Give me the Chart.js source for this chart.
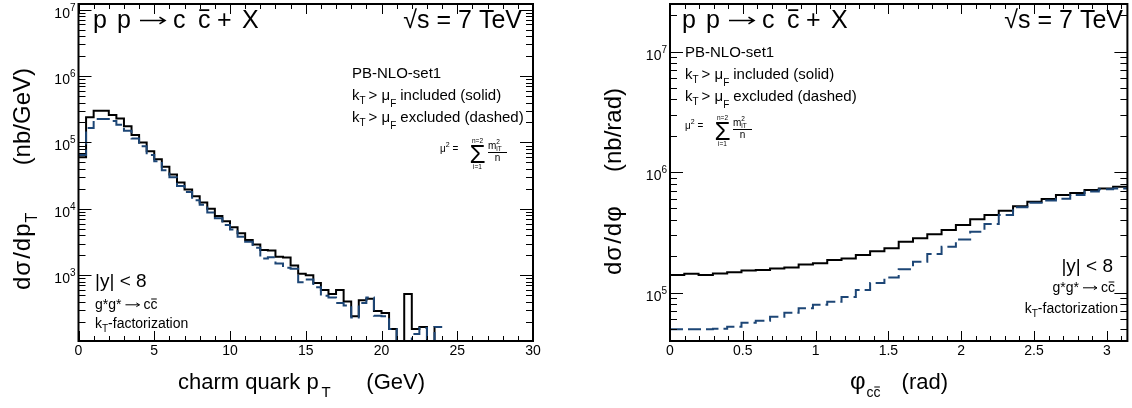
<!DOCTYPE html>
<html>
<head>
<meta charset="utf-8">
<title>charm quark pT and azimuthal correlation</title>
<script src="https://cdn.jsdelivr.net/npm/chart.js@4.4.1/dist/chart.umd.min.js"></script>
<style>
  body { margin: 0; background: #fff; }
  #wrap { position: relative; width: 1132px; height: 408px; }
  #wrap canvas { position: absolute; top: 0; }
</style>
</head>
<body>
<div id="wrap">
  <canvas id="ptChart" width="566" height="408" style="left:0"></canvas>
  <canvas id="phiChart" width="566" height="408" style="left:566px"></canvas>
</div>
<script>
// pT spectrum, bins of 0.5 GeV starting at 0 (0 = empty bin)
const ptBinWidth = 0.5;
const ptSolid = [6.0e4, 2.4e5, 3.0e5, 3.0e5, 2.6e5, 2.3e5, 1.75e5, 1.3e5, 1.0e5, 7.4e4,
                 5.6e4, 4.3e4, 3.3e4, 2.5e4, 1.95e4, 1.55e4, 1.25e4, 1.0e4, 7.8e3, 6.5e3,
                 5.3e3, 4.3e3, 3.4e3, 2.9e3, 2.4e3, 2.35e3, 1.9e3, 1.85e3, 1.4e3, 1.05e3,
                 1.0e3, 7.6e2, 6.0e2, 5.2e2, 6.0e2, 4.0e2, 2.4e2, 4.2e2, 4.4e2, 2.9e2,
                 2.7e2, 1.55e2, 0, 5.2e2, 1.55e2, 1.66e2, 0, 1.66e2];
const ptDashed = [6.5e4, 1.65e5, 2.25e5, 2.25e5, 2.1e5, 1.85e5, 1.5e5, 1.15e5, 8.8e4, 6.5e4,
                  5.2e4, 3.8e4, 3.0e4, 2.2e4, 1.8e4, 1.35e4, 1.15e4, 8.8e3, 7.2e3, 5.7e3,
                  4.9e3, 3.8e3, 3.2e3, 2.6e3, 1.78e3, 1.87e3, 1.5e3, 1.3e3, 1.25e3, 7.8e2,
                  8.6e2, 6.6e2, 4.9e2, 4.6e2, 3.8e2, 3.5e2, 2.3e2, 3.8e2, 4.6e2, 2.45e2,
                  2.4e2, 1.55e2, 0, 0, 1.3e2, 1.6e2, 0, 1.66e2];
const ptTicks = [0, 5, 10, 15, 20, 25, 30];

// azimuthal distance, 32 bins over [0, pi]
const phiBinWidth = Math.PI / 32;
const phiSolid = [1.40e5, 1.43e5, 1.40e5, 1.44e5, 1.47e5, 1.52e5, 1.54e5, 1.58e5, 1.61e5, 1.71e5,
                  1.75e5, 1.86e5, 1.92e5, 2.05e5, 2.2e5, 2.33e5, 2.64e5, 2.82e5, 3.04e5, 3.30e5,
                  3.63e5, 4.05e5, 4.4e5, 4.77e5, 5.2e5, 5.67e5, 5.97e5, 6.44e5, 6.7e5, 7.1e5,
                  7.3e5, 7.55e5];
const phiDashed = [4.95e4, 4.95e4, 4.95e4, 5.0e4, 5.2e4, 5.6e4, 5.83e4, 6.3e4, 6.8e4, 7.4e4,
                   7.9e4, 8.4e4, 9.2e4, 1.05e5, 1.2e5, 1.33e5, 1.56e5, 1.8e5, 2.09e5, 2.4e5,
                   2.76e5, 3.2e5, 3.7e5, 4.4e5, 5.1e5, 5.56e5, 5.8e5, 6.0e5, 6.44e5, 6.9e5,
                   7.2e5, 7.3e5];
const phiTicks = [0, 0.5, 1, 1.5, 2, 2.5, 3];

const FONT = '"Liberation Sans", Arial, Helvetica, sans-serif';
const BLUE = '#1d4676';

function font(ctx, size) {
    ctx.font = size + 'px ' + FONT;
}

// draw a run of text pieces (sub/superscripts via dy, overline via over, arrow via arrow=length)
function drawRich(ctx, parts, x, y, align) {
    let w = 0;
    parts.forEach(p => {
        font(ctx, p.size);
        p.w = p.arrow ? p.arrow : ctx.measureText(p.t).width;
        w += p.w + (p.gap || 0);
    });
    let cx = align === 'right' ? x - w : (align === 'center' ? x - w / 2 : x);
    parts.forEach(p => {
        font(ctx, p.size);
        const by = y + (p.dy || 0);
        if (p.arrow) {
            const ay = by - p.size * 0.3, h = p.size * 0.22;
            ctx.save();
            ctx.strokeStyle = ctx.fillStyle;
            ctx.lineWidth = Math.max(1, p.size / 16);
            ctx.beginPath();
            ctx.moveTo(cx, ay); ctx.lineTo(cx + p.w, ay);
            ctx.moveTo(cx + p.w - h, ay - h * 0.6); ctx.lineTo(cx + p.w, ay); ctx.lineTo(cx + p.w - h, ay + h * 0.6);
            ctx.stroke();
            ctx.restore();
        } else {
            ctx.fillText(p.t, cx, by);
        }
        if (p.over) {
            ctx.fillRect(cx + p.w * 0.1, by - p.size * 0.75, p.w * 0.8, Math.max(1, p.size / 14));
        }
        cx += p.w + (p.gap || 0);
    });
    return w;
}

// histogram -> step points at bin edges
function histPoints(width, values, floor) {
    const pts = values.map((v, i) => ({ x: i * width, y: v > 0 ? v : floor }));
    pts.push({ x: values.length * width, y: pts[pts.length - 1].y });
    return pts;
}

function drawProcess(ctx, x0, base) {
    const toks = ['p', 'p', null, 'c', 'c', '+', 'X'];
    const offs = [0, 24, 47, 80, 105, 124, 149];
    toks.forEach((t, i) => {
        if (t === null) drawRich(ctx, [{ arrow: 25, size: 25 }], x0 + offs[i], base);
        else drawRich(ctx, [{ t: t, size: 25, over: i === 4 }], x0 + offs[i], base);
    });
}

function drawLegend(ctx, x, y) {
    drawRich(ctx, [{ t: 'PB-NLO-set1', size: 15 }], x, y);
    const kt = [{ t: 'k', size: 15 }, { t: 'T', size: 10, dy: 4, gap: 3 }, { t: '> μ', size: 15 }, { t: 'F', size: 10, dy: 7, gap: 4 }];
    drawRich(ctx, kt.concat([{ t: 'included (solid)', size: 15 }]), x, y + 22);
    drawRich(ctx, kt.concat([{ t: 'excluded (dashed)', size: 15 }]), x, y + 44);
}

function drawFormula(ctx, x, ly) {
    drawRich(ctx, [{ t: 'μ', size: 10 }, { t: '2', size: 7, dy: -5 }, { t: ' =', size: 10 }], x, ly);
    drawRich(ctx, [{ t: 'Σ', size: 26 }], x + 37.5, ly + 11, 'center');
    drawRich(ctx, [{ t: 'n=2', size: 6.5 }], x + 37.5, ly - 9, 'center');
    drawRich(ctx, [{ t: 'i=1', size: 6.5 }], x + 37.5, ly + 17, 'center');
    const mw = drawRich(ctx, [{ t: 'm', size: 10 }], x + 48, ly - 3);
    drawRich(ctx, [{ t: '2', size: 6.5 }], x + 48 + mw, ly - 8);
    drawRich(ctx, [{ t: 'iT', size: 6.5 }], x + 48 + mw, ly - 1);
    ctx.fillRect(x + 48, ly, 19, 1);
    drawRich(ctx, [{ t: 'n', size: 10 }], x + 57.5, ly + 9, 'center');
}

function drawGluons(ctx, x, y, align) {
    drawRich(ctx, [{ t: 'g*g*', size: 14, gap: 4 }, { arrow: 14, size: 14, gap: 4 }, { t: 'c', size: 14 }, { t: 'c', size: 14, over: true }], x, y, align);
}

// rotated title: first part starts at yStart (bottom), last part ends at yEnd (top)
function drawVTitle(ctx, xBase, yStart, first, yEnd, last) {
    ctx.save();
    ctx.translate(xBase, 0);
    ctx.rotate(-Math.PI / 2);
    drawRich(ctx, first, -yStart, 0, 'left');
    drawRich(ctx, last, -yEnd, 0, 'right');
    ctx.restore();
}

// ROOT style frame: inward ticks on all four sides, 10^n labels
function rootPanel(cfg) {
    return {
        id: 'rootPanel',
        afterDatasetsDraw(chart) {
            const ctx = chart.ctx, a = chart.chartArea, xs = chart.scales.x, ys = chart.scales.y;
            ctx.save();
            ctx.fillStyle = '#000';
            ctx.strokeStyle = '#000';
            ctx.lineWidth = 1;
            ctx.beginPath();
            const nMinor = Math.round((xs.max - xs.min) / cfg.xMinor);
            for (let i = 0; i <= nMinor; i++) {
                const v = xs.min + i * cfg.xMinor;
                const major = cfg.xTicks.some(t => Math.abs(t - v) < 1e-6);
                const len = major ? 10 : 5;
                const px = Math.round(xs.getPixelForValue(v)) + 0.5;
                ctx.moveTo(px, a.bottom); ctx.lineTo(px, a.bottom - len);
                ctx.moveTo(px, a.top); ctx.lineTo(px, a.top + len);
            }
            const d0 = Math.floor(Math.log10(ys.min)), d1 = Math.ceil(Math.log10(ys.max));
            const decades = [];
            for (let d = d0; d <= d1; d++) {
                for (let k = 1; k <= 9; k++) {
                    const v = k * Math.pow(10, d);
                    if (v < ys.min || v > ys.max) continue;
                    if (k === 1) decades.push(d);
                    const len = k === 1 ? 13 : 7;
                    const py = Math.round(ys.getPixelForValue(v)) + 0.5;
                    ctx.moveTo(a.left, py); ctx.lineTo(a.left + len, py);
                    ctx.moveTo(a.right, py); ctx.lineTo(a.right - len, py);
                }
            }
            ctx.stroke();
            ctx.lineWidth = 2;
            ctx.strokeRect(a.left, a.top, a.right - a.left, a.bottom - a.top);

            ctx.textBaseline = 'alphabetic';
            ctx.textAlign = 'left';
            cfg.xTicks.forEach(t => drawRich(ctx, [{ t: String(t), size: 14 }], xs.getPixelForValue(t), 355, 'center'));
            decades.forEach(d => {
                const py = ys.getPixelForValue(Math.pow(10, d));
                drawRich(ctx, [{ t: '10', size: 14 }, { t: String(d), size: 10, dy: -7 }], a.left - 3, py + 8, 'right');
            });

            ctx.translate(-cfg.originX, 0);
            cfg.text(ctx);
            ctx.restore();
        }
    };
}

function histChart(id, cfg) {
    return new Chart(document.getElementById(id), {
        type: 'line',
        data: {
            datasets: [
                {
                    label: 'kT > muF excluded (dashed)',
                    data: histPoints(cfg.binWidth, cfg.dashed, cfg.yMin),
                    borderColor: BLUE,
                    borderWidth: 2,
                    borderDash: [13, 5],
                    stepped: 'before',
                    pointRadius: 0,
                    fill: false,
                    order: 0
                },
                {
                    label: 'kT > muF included (solid)',
                    data: histPoints(cfg.binWidth, cfg.solid, cfg.yMin),
                    borderColor: '#000',
                    borderWidth: 2,
                    stepped: 'before',
                    pointRadius: 0,
                    fill: false,
                    order: 1
                }
            ]
        },
        options: {
            responsive: false,
            animation: false,
            layout: { padding: cfg.padding },
            scales: {
                x: { type: 'linear', min: 0, max: cfg.xMax, display: false },
                y: { type: 'logarithmic', min: cfg.yMin, max: cfg.yMax, display: false }
            },
            plugins: { legend: { display: false }, tooltip: { enabled: false } }
        },
        plugins: [rootPanel(cfg)]
    });
}

histChart('ptChart', {
    binWidth: ptBinWidth, solid: ptSolid, dashed: ptDashed,
    xMax: 30, yMin: 102, yMax: 1.22e7,
    xTicks: ptTicks, xMinor: 1, originX: 0,
    padding: { left: 78.5, right: 33, top: 4, bottom: 67 },
    text: function(ctx) {
        drawProcess(ctx, 93, 28);
        drawRich(ctx, [{ t: '√s = 7 TeV', size: 25 }], 522, 28, 'right');
        drawLegend(ctx, 352, 78);
        drawFormula(ctx, 440, 152);
        drawRich(ctx, [{ t: '|y| < 8', size: 19 }], 95, 287);
        drawGluons(ctx, 95, 309, 'left');
        drawRich(ctx, [{ t: 'k', size: 14 }, { t: 'T', size: 10, dy: 4 }, { t: '-factorization', size: 14 }], 95, 328);
        drawRich(ctx, [{ t: 'charm quark p', size: 22, gap: 3 }, { t: 'T', size: 15, dy: 8 }], 178, 389);
        drawRich(ctx, [{ t: '(GeV)', size: 22 }], 425, 389, 'right');
        drawVTitle(ctx, 30, 290,
            [{ t: 'd', size: 24, gap: 1 }, { t: 'σ', size: 24, gap: 2 }, { t: '/', size: 24, gap: 1 }, { t: 'd', size: 24, gap: 1 }, { t: 'p', size: 24, gap: 1 }, { t: 'T', size: 16, dy: 7 }],
            68, [{ t: '(nb/GeV)', size: 24 }]);
    }
});

histChart('phiChart', {
    binWidth: phiBinWidth, solid: phiSolid, dashed: phiDashed,
    xMax: Math.PI, yMin: 3.96e4, yMax: 2.48e7,
    xTicks: phiTicks, xMinor: 0.1, originX: 566,
    padding: { left: 104, right: 4.6, top: 4, bottom: 67 },
    text: function(ctx) {
        drawProcess(ctx, 682, 28);
        drawRich(ctx, [{ t: '√s = 7 TeV', size: 25 }], 1123, 28, 'right');
        drawLegend(ctx, 685, 57);
        drawFormula(ctx, 685, 129);
        drawRich(ctx, [{ t: '|y| < 8', size: 19 }], 1113, 272, 'right');
        drawGluons(ctx, 1115, 292, 'right');
        drawRich(ctx, [{ t: 'k', size: 14 }, { t: 'T', size: 10, dy: 4 }, { t: '-factorization', size: 14 }], 1118, 313, 'right');
        drawRich(ctx, [{ t: 'φ', size: 24, gap: 1 }, { t: 'c', size: 14, dy: 8 }, { t: 'c', size: 14, dy: 8, over: true }], 850, 389);
        drawRich(ctx, [{ t: '(rad)', size: 22 }], 948, 389, 'right');
        drawVTitle(ctx, 621, 275,
            [{ t: 'd', size: 24, gap: 1 }, { t: 'σ', size: 24, gap: 2 }, { t: '/', size: 24, gap: 1 }, { t: 'd', size: 24, gap: 1 }, { t: 'φ', size: 24 }],
            88, [{ t: '(nb/rad)', size: 24 }]);
    }
});
</script>
</body>
</html>
